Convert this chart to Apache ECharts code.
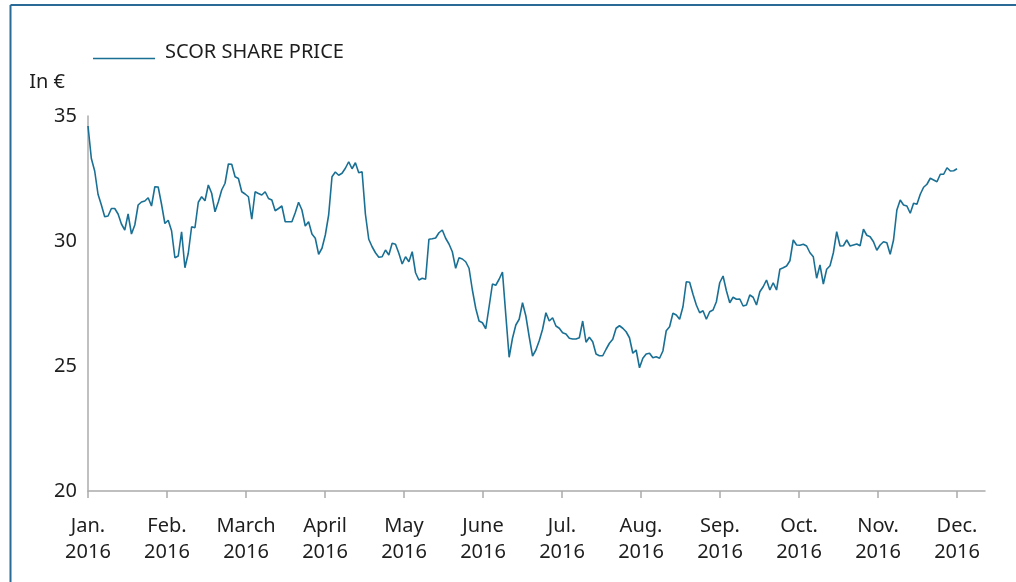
<!DOCTYPE html>
<html>
<head>
<meta charset="utf-8">
<title>SCOR share price 2016</title>
<script src="https://cdn.jsdelivr.net/npm/echarts@6/dist/echarts.min.js"></script>
<style>
    html, body { margin: 0; padding: 0; background: #fff; }
    #chart { width: 1016px; height: 582px; }
</style>
</head>
<body>
<div id="chart"></div>
<script>
// month labels on the x axis (one tick per month)
var monthLabels = ["Jan.", "Feb.", "March", "April", "May", "June", "Jul.", "Aug.", "Sep.", "Oct.", "Nov.", "Dec."];
var yearLabel = "2016";
var yTicks = [20, 25, 30, 35];
var seriesName = "SCOR SHARE PRICE";

// daily closing price in € (Jan -> Dec 2016)
var sharePrice = [
    34.6, 33.3, 32.8, 31.87, 31.44, 30.97, 31.0, 31.3, 31.3, 31.08,
    30.68, 30.44, 31.08, 30.28, 30.64, 31.44, 31.56, 31.6, 31.73, 31.4,
    32.17, 32.16, 31.47, 30.7, 30.83, 30.41, 29.33, 29.4, 30.37, 28.93,
    29.51, 30.57, 30.53, 31.55, 31.77, 31.61, 32.24, 31.91, 31.17, 31.57,
    32.04, 32.31, 33.08, 33.07, 32.57, 32.5,
    31.97, 31.88, 31.77, 30.87, 31.97, 31.9, 31.84, 31.97, 31.7, 31.64,
    31.21, 31.3, 31.4, 30.77, 30.77, 30.77, 31.13, 31.55, 31.24, 30.6,
    30.77, 30.28, 30.11, 29.47, 29.71, 30.24, 31.04, 32.57, 32.76, 32.63,
    32.71, 32.91, 33.17, 32.89, 33.13, 32.73, 32.77, 31.07, 30.07, 29.77,
    29.53, 29.35, 29.37, 29.64, 29.44, 29.91, 29.87,
    29.51, 29.08, 29.37, 29.17, 29.57, 28.73, 28.44, 28.51, 28.47, 30.07,
    30.09, 30.12, 30.33, 30.44, 30.11, 29.88, 29.57, 28.91, 29.33, 29.28,
    29.17, 28.91, 28.04, 27.31, 26.8, 26.73, 26.49, 27.37, 28.28, 28.23,
    28.47, 28.76, 27.04, 25.35, 26.11, 26.64, 26.87, 27.53, 27.0, 26.17,
    25.4, 25.64, 26.01, 26.47, 27.13, 26.8,
    26.93, 26.6, 26.51, 26.33, 26.28, 26.11, 26.08, 26.08, 26.13, 26.8,
    25.95, 26.15, 25.97, 25.48, 25.41, 25.41, 25.67, 25.91, 26.07, 26.51,
    26.61, 26.51, 26.37, 26.13, 25.51, 25.64, 24.93, 25.31, 25.48, 25.51,
    25.33, 25.37, 25.31, 25.6, 26.41, 26.57, 27.11, 27.04, 26.87, 27.37,
    28.37, 28.35, 27.87, 27.44, 27.13,
    27.21, 26.87, 27.17, 27.24, 27.57, 28.33, 28.6, 28.01, 27.53, 27.75,
    27.67, 27.68, 27.4, 27.44, 27.84, 27.75, 27.44, 27.97, 28.17, 28.44,
    28.04, 28.33, 28.04, 28.87, 28.93, 29.0, 29.21, 30.04, 29.84, 29.83,
    29.87, 29.8, 29.53, 29.37, 28.51, 29.04, 28.28, 28.87, 29.01, 29.53,
    30.37, 29.8, 29.81, 30.04, 29.8, 29.84, 29.88, 29.81, 30.47, 30.23,
    30.17, 29.97, 29.63, 29.84, 29.97, 29.93, 29.47, 30.04, 31.24, 31.64,
    31.44, 31.4, 31.11, 31.51, 31.47, 31.87, 32.15, 32.27, 32.51, 32.44,
    32.37, 32.67, 32.67, 32.93, 32.8, 32.81, 32.89
];

var lineColor = "#1a7094";
var textColor = "#1e1e1e";
var axisColor = "#ababab";
var font = "'Noto Sans', 'Open Sans', sans-serif";

// spread the trading days evenly between the first and last month tick
var lastMonth = monthLabels.length - 1;
var points = sharePrice.map(function (v, i) {
    return [i * lastMonth / (sharePrice.length - 1), v];
});
var monthTicks = monthLabels.map(function (m, i) { return i; });

var myChart = echarts.init(document.getElementById("chart"));
var option = {
    animation: false,
    textStyle: { fontFamily: font },
    grid: { left: 88, right: 31, top: 116, bottom: 91 },
    legend: {
        left: 88,
        top: 37,
        itemWidth: 67,
        itemHeight: 16.5,
        icon: "path://M0,0 M67,16.5 M0,14 L62,14 L62,15.4 L0,15.4 Z",
        textStyle: { fontSize: 20, color: textColor, fontFamily: font },
        data: [seriesName]
    },
    graphic: [
        // frame round the figure (top and left edge)
        { type: "line", shape: { x1: 10.5, y1: 5, x2: 1016, y2: 5 }, style: { stroke: "#2a6a96", lineWidth: 2 } },
        { type: "line", shape: { x1: 10.5, y1: 5, x2: 10.5, y2: 582 }, style: { stroke: "#2a6a96", lineWidth: 2 } }
    ],
    xAxis: {
        type: "value",
        min: 0,
        max: 11.354,
        interval: 1,
        splitLine: { show: false },
        axisLine: { lineStyle: { color: axisColor, width: 1.5 } },
        axisTick: { show: true, length: 7, customValues: monthTicks, lineStyle: { color: axisColor, width: 1.5 } },
        axisLabel: {
            customValues: monthTicks,
            margin: 22,
            fontSize: 20,
            lineHeight: 26,
            color: textColor,
            fontFamily: font,
            formatter: function (v) {
                return monthLabels[Math.round(v)] + "\n" + yearLabel;
            }
        }
    },
    yAxis: {
        type: "value",
        min: yTicks[0],
        max: yTicks[yTicks.length - 1],
        interval: 5,
        name: "In €",
        nameLocation: "end",
        nameGap: 24,
        nameTextStyle: { fontSize: 20, color: textColor, align: "right", padding: [0, 23, 0, 0], fontFamily: font },
        splitLine: { show: false },
        axisLine: { show: true, lineStyle: { color: axisColor, width: 1.5 } },
        axisTick: { show: false },
        axisLabel: { margin: 11, fontSize: 20, color: textColor, fontFamily: font }
    },
    series: [
        {
            name: seriesName,
            type: "line",
            data: points,
            symbol: "none",
            showSymbol: false,
            color: lineColor,
            lineStyle: { color: lineColor, width: 1.6 }
        }
    ]
};
myChart.setOption(option);
</script>
</body>
</html>
